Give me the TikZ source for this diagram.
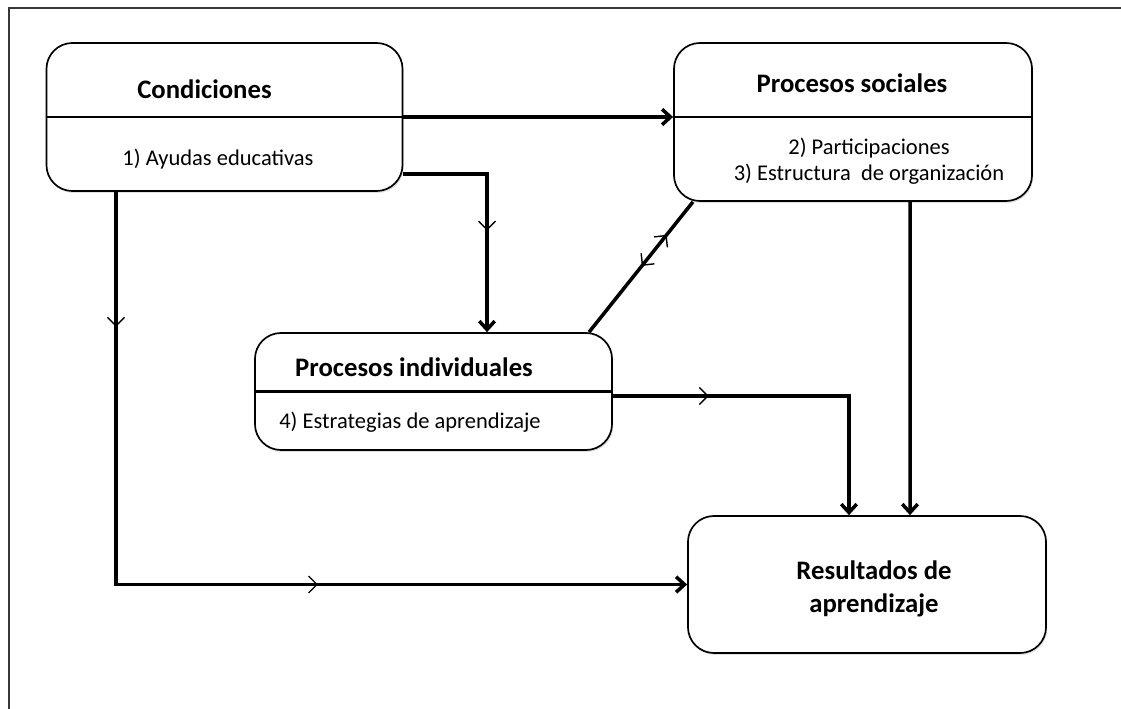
\documentclass[tikz,border=0pt]{standalone}
\usepackage{fontspec}
\setmainfont{Carlito}
\usetikzlibrary{positioning,arrows.meta,decorations.markings,shadows}
\definecolor{framegray}{RGB}{55,55,55}

\begin{document}
\begin{tikzpicture}[x=0.025cm, y=-0.025cm,
    box/.style={draw, line width=1.2pt, rounded corners=0.65cm, inner sep=0pt, fill=white,
        drop shadow={shadow xshift=0.8pt, shadow yshift=-1.4pt, fill=black, opacity=0.12}},
    title/.style={font=\bfseries\fontsize{19}{23}\selectfont, anchor=base, inner sep=0pt, align=center},
    body/.style={font=\fontsize{16}{18.6}\selectfont, anchor=base, inner sep=0pt, align=center},
    divider/.style={line width=1.6pt},
    plain/.style={line width=2.5pt},
    link/.style={plain, -{Straight Barb[length=6pt, width=11pt]}},
    midmark/.style={postaction={decorate, decoration={markings,
        mark=at position #1 with {\arrow{Straight Barb[length=6pt, width=12pt, line width=1pt]}}}}},
    backmark/.style={postaction={decorate, decoration={markings,
        mark=at position #1 with {\arrowreversed{Straight Barb[length=6pt, width=12pt, line width=1pt]}}}}}
]
    \useasboundingbox (0,0) rectangle (1121,709);
    \draw[framegray, line width=1.4pt] (9,709) -- (9,8) -- (1121,8);

    % boxes
    \node[box, minimum width=8.9cm, minimum height=3.7cm] (cond) at (224.5,117) {};
    \node[box, minimum width=8.95cm, minimum height=3.95cm] (soc) at (853,122) {};
    \node[box, minimum width=8.925cm, minimum height=2.925cm] (ind) at (433.5,391.5) {};
    \node[box, minimum width=8.95cm, minimum height=3.425cm] (res) at (867,584.5) {};

    \draw[divider] (cond.west) -- (cond.east);
    \draw[divider] ([yshift=0.125cm]soc.west) -- ([yshift=0.125cm]soc.east);
    \draw[divider] (ind.west) -- (ind.east);

    % texts
    \node[title] (condtitle) at (204.5,99) {Condiciones};
    \node[body] (condbody) at (218,166) {1) Ayudas educativas};
    \node[title] (soctitle) at (852,93) {Procesos sociales};
    \node[body] (socbody) at (869,181) {2) Participaciones\\3) Estructura~ de organización};
    \node[title] (indtitle) at (414,376) {Procesos individuales};
    \node[body] (indbody) at (410,428) {4) Estrategias de aprendizaje};
    \node[title] (restitle) at (874,612) {Resultados de\\aprendizaje};

    % connectors
    \draw[link] (cond.east) -- (soc.west |- cond.east);
    \draw[link, midmark=0.58] ([yshift=-1.425cm]cond.east) -| ([xshift=1.3375cm]ind.north);
    \draw[link, midmark=0.14, midmark=0.617] ([xshift=-2.7125cm]cond.south) |- (res.west);
    \draw[plain, midmark=0.75, backmark=0.51] ([xshift=3.8875cm]ind.north) -- ([xshift=-4cm]soc.south);
    \draw[link, midmark=0.27] ([yshift=-0.1125cm]ind.east) -| ([xshift=-0.45cm]res.north);
    \draw[link] ([xshift=1.425cm]soc.south) -- ([xshift=1.075cm]res.north);
\end{tikzpicture}
\end{document}
